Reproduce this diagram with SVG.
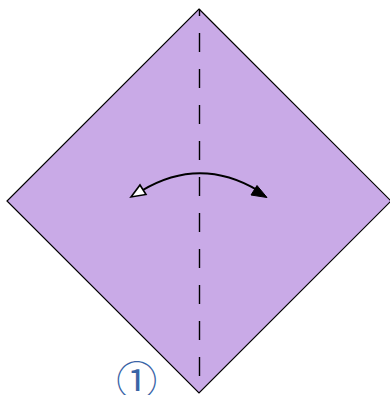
<svg xmlns="http://www.w3.org/2000/svg" width="390" height="395" viewBox="0 0 390 395">
<style>
.paper{fill:#C9AAE7;stroke:#000;stroke-width:1.2;stroke-linejoin:miter}
.valley{stroke:#000;stroke-width:1.4;stroke-dasharray:19 17;stroke-dashoffset:12;fill:none}
.arc{fill:none;stroke:#000;stroke-width:2}
.num{font-family:"Noto Sans CJK JP","DejaVu Sans",sans-serif;font-size:41px;fill:#3A64A6}
</style>
<g id="paper">
<polygon class="paper" points="199,9 391,201 199,393 7,201"/>
</g>
<g id="connectors">
<line class="valley" x1="199.5" y1="9" x2="199.5" y2="393"/>
<path class="arc" d="M142,190.5 Q200,156 258,190.5"/>
<polygon points="131,197 140,185 146,194.5" fill="#fff" stroke="#000" stroke-width="1.6" stroke-linejoin="miter"/>
<polygon points="267,197.5 257,185.5 251,195" fill="#000" stroke="#000" stroke-width="1"/>
</g>
<g id="step">
<text class="num" x="136.7" y="396" text-anchor="middle">①</text>
</g>
</svg>
